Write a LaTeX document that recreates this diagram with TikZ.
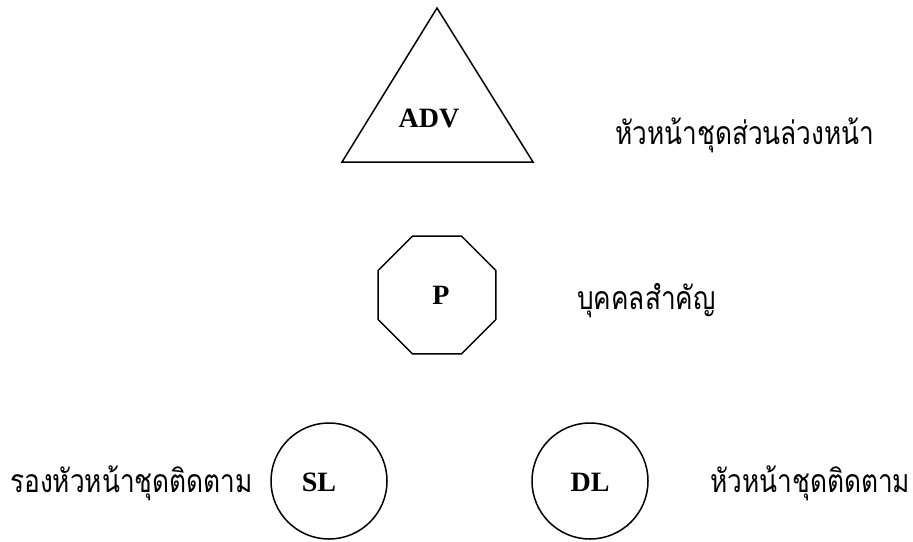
\documentclass[tikz,border=0pt]{standalone}
\usepackage{fontspec}
\setmainfont{Liberation Serif}
\newfontfamily\thaifont[Script=Thai,FakeStretch=0.82]{Loma}
\usetikzlibrary{shapes.geometric}
\begin{document}
\begin{tikzpicture}[x=1pt,y=-1pt,
  shapeline/.style={draw=black,line width=1.5pt},
  tag/.style={font=\fontsize{28}{30}\selectfont\bfseries,inner sep=0pt},
  thai/.style={font=\thaifont\fontsize{32}{36}\selectfont,inner sep=0pt,anchor=base west}]
\useasboundingbox (0,0) rectangle (913,541);
\fill[white] (0,0) rectangle (913,541);
% triangle
\coordinate (t1) at (437,8);
\coordinate (t2) at (342,162);
\coordinate (t3) at (533,162);
\draw[shapeline,line join=miter] (t1) -- (t2) -- (t3) -- cycle;
\node[tag] (adv) at (429,118) {ADV};
% octagon
\node[shapeline,regular polygon,regular polygon sides=8,minimum size=127.7pt,inner sep=0pt] (oct) at (437,295) {};
\node[tag] (p) at (441,295) {P};
% circles
\node[shapeline,circle,minimum size=116pt,inner sep=0pt] (slc) at (329,481) {};
\node[tag] (sl) at (319,482) {SL};
\node[shapeline,circle,minimum size=116pt,inner sep=0pt] (dlc) at (590,481) {};
\node[tag] (dl) at (590,482) {DL};
% labels
\node[thai] (l1) at (615,144) {หัวหน้าชุดส่วนล่วงหน้า};
\node[thai] (l2) at (577,309) {บุคคลสำคัญ};
\node[thai] (l3) at (10,492) {รองหัวหน้าชุดติดตาม};
\node[thai] (l4) at (710,492) {หัวหน้าชุดติดตาม};
\end{tikzpicture}
\end{document}
